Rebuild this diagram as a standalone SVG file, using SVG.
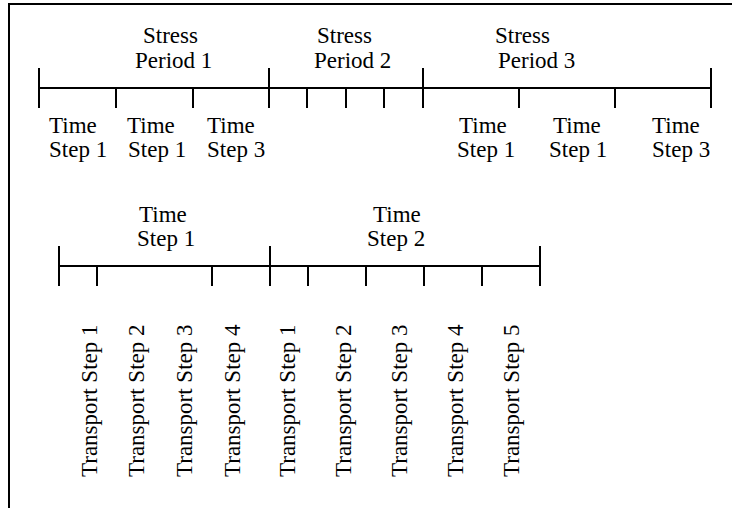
<svg xmlns="http://www.w3.org/2000/svg" width="732" height="508" viewBox="0 0 732 508" font-family="'Liberation Serif', 'Times New Roman', serif">
<style>
  .ln { stroke: #000; stroke-width: 2; fill: none; }
  .t { font-family: 'Liberation Serif', 'Times New Roman', serif; font-size: 23px; fill: #000; }
</style>
<rect x="0" y="0" width="732" height="508" fill="#fff"/>
<path class="ln" d="M9,508 V4 H732" stroke-width="2.5"/>

<g id="top-timeline">
  <path class="ln" d="M39,88 H711 M39,68 V108 M269,68 V108 M423,68 V108 M711,68 V108 M116,88 V108 M193,88 V108 M307,88 V108 M346,88 V108 M384,88 V108 M519,88 V108 M615,88 V108"/>
</g>

<g id="stress-period-1">
  <text class="t" x="143" y="43">Stress</text>
  <text class="t" x="135" y="68">Period 1</text>
</g>
<g id="stress-period-2">
  <text class="t" x="317" y="43">Stress</text>
  <text class="t" x="314" y="68">Period 2</text>
</g>
<g id="stress-period-3">
  <text class="t" x="495" y="43">Stress</text>
  <text class="t" x="498" y="68">Period 3</text>
</g>

<g id="sp1-ts1"><text class="t" x="49" y="133">Time</text><text class="t" x="49" y="157">Step 1</text></g>
<g id="sp1-ts2"><text class="t" x="127" y="133">Time</text><text class="t" x="128" y="157">Step 1</text></g>
<g id="sp1-ts3"><text class="t" x="207" y="133">Time</text><text class="t" x="207" y="157">Step 3</text></g>
<g id="sp3-ts1"><text class="t" x="459" y="133">Time</text><text class="t" x="457" y="157">Step 1</text></g>
<g id="sp3-ts2"><text class="t" x="553" y="133">Time</text><text class="t" x="549" y="157">Step 1</text></g>
<g id="sp3-ts3"><text class="t" x="652" y="133">Time</text><text class="t" x="652" y="157">Step 3</text></g>

<g id="bottom-timeline">
  <path class="ln" d="M59,266 H540 M59,246 V286 M270,246 V286 M540,246 V286 M97,266 V286 M212,266 V286 M308,266 V286 M366,266 V286 M424,266 V286 M482,266 V286"/>
</g>

<g id="time-step-1"><text class="t" x="139" y="222">Time</text><text class="t" x="137" y="246">Step 1</text></g>
<g id="time-step-2"><text class="t" x="373" y="222">Time</text><text class="t" x="367" y="246">Step 2</text></g>

<g id="transport-steps">
  <text class="t" transform="translate(97,477) rotate(-90)">Transport Step 1</text>
  <text class="t" transform="translate(144,477) rotate(-90)">Transport Step 2</text>
  <text class="t" transform="translate(192,477) rotate(-90)">Transport Step 3</text>
  <text class="t" transform="translate(240,477) rotate(-90)">Transport Step 4</text>
  <text class="t" transform="translate(295,477) rotate(-90)">Transport Step 1</text>
  <text class="t" transform="translate(351,477) rotate(-90)">Transport Step 2</text>
  <text class="t" transform="translate(407,477) rotate(-90)">Transport Step 3</text>
  <text class="t" transform="translate(463,477) rotate(-90)">Transport Step 4</text>
  <text class="t" transform="translate(519,477) rotate(-90)">Transport Step 5</text>
</g>
</svg>
